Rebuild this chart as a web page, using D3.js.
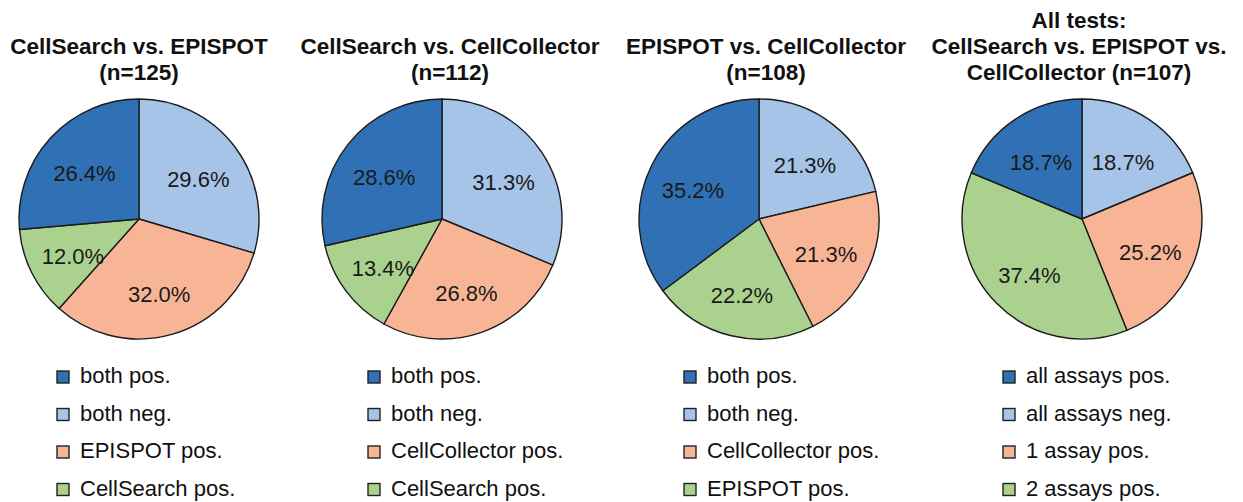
<!DOCTYPE html>
<html>
<head>
<meta charset="utf-8">
<script src="https://cdn.jsdelivr.net/npm/d3@7"></script>
<style>
  html, body { margin: 0; padding: 0; background: #fff; }
  svg { display: block; font-family: "Liberation Sans", Arial, sans-serif; }
</style>
</head>
<body>
<svg id="chart" width="1243" height="502"></svg>
<script>
// ---- data ----
const titles = [
  ["CellSearch vs. EPISPOT", "(n=125)"],
  ["CellSearch vs. CellCollector", "(n=112)"],
  ["EPISPOT vs. CellCollector", "(n=108)"],
  ["All tests:", "CellSearch vs. EPISPOT vs.", "CellCollector (n=107)"]
];
const legendLabels = [
  ["both pos.", "both neg.", "EPISPOT pos.", "CellSearch pos."],
  ["both pos.", "both neg.", "CellCollector pos.", "CellSearch pos."],
  ["both pos.", "both neg.", "CellCollector pos.", "EPISPOT pos."],
  ["all assays pos.", "all assays neg.", "1 assay pos.", "2 assays pos."]
];
// values per category (legend order), one entry per chart
const bothPos   = [26.4, 28.6, 35.2, 18.7];
const bothNeg   = [29.6, 31.3, 21.3, 18.7];
const firstPos  = [32.0, 26.8, 21.3, 25.2];
const secondPos = [12.0, 13.4, 22.2, 37.4];

// ---- style / layout ----
const colors = ["#3070B4", "#A6C4E8", "#F7B596", "#AAD28E"];
const pieCx = [139, 442, 759, 1082];
const titleCx = [139, 450, 766, 1079];
const legendX = [57, 368, 684, 1003];
const pieCy = 219, radius = 120;
const lastTitleBaseline = 80, titleLineH = 26;
const legendBaseline0 = 383, legendStep = 37.5;
// clockwise drawing order from 12 o'clock: both neg, first pos, second pos, both pos
const drawOrder = [1, 2, 3, 0];

const svg = d3.select("#chart");
const pie = d3.pie().sort(null).value(d => d.value);
const arc = d3.arc().innerRadius(0).outerRadius(radius);
const labelArc = d3.arc().innerRadius(74).outerRadius(74);

titles.forEach((lines, i) => {
  const values = [bothPos[i], bothNeg[i], firstPos[i], secondPos[i]];
  const g = svg.append("g");

  // title
  const n = lines.length;
  g.selectAll("text.title").data(lines).join("text")
    .attr("class", "title")
    .attr("x", titleCx[i])
    .attr("y", (d, k) => lastTitleBaseline - (n - 1 - k) * titleLineH)
    .attr("text-anchor", "middle")
    .attr("font-size", 22.5)
    .attr("font-weight", "bold")
    .attr("fill", "#111")
    .text(d => d);

  // pie
  const data = drawOrder.map(c => ({ cat: c, value: values[c] }));
  const arcs = pie(data);
  const pg = g.append("g").attr("transform", `translate(${pieCx[i]},${pieCy})`);
  pg.selectAll("path").data(arcs).join("path")
    .attr("d", arc)
    .attr("fill", d => colors[d.data.cat])
    .attr("stroke", "#1b1b1b")
    .attr("stroke-width", 1.4)
    .attr("stroke-linejoin", "round");
  pg.selectAll("text").data(arcs).join("text")
    .attr("transform", d => `translate(${labelArc.centroid(d)})`)
    .attr("text-anchor", "middle")
    .attr("dy", "0.55em")
    .attr("font-size", 22)
    .attr("fill", "#1a1a1a")
    .text(d => d3.format(".1f")(d.data.value) + "%");

  // legend
  const lg = g.append("g");
  legendLabels[i].forEach((lab, k) => {
    const by = legendBaseline0 + k * legendStep;
    lg.append("rect")
      .attr("x", legendX[i]).attr("y", by - 12)
      .attr("width", 12).attr("height", 12)
      .attr("fill", colors[k])
      .attr("stroke", "#222").attr("stroke-width", 1.4);
    lg.append("text")
      .attr("x", legendX[i] + 23).attr("y", by)
      .attr("font-size", 22)
      .attr("fill", "#111")
      .text(lab);
  });
});
</script>
</body>
</html>
